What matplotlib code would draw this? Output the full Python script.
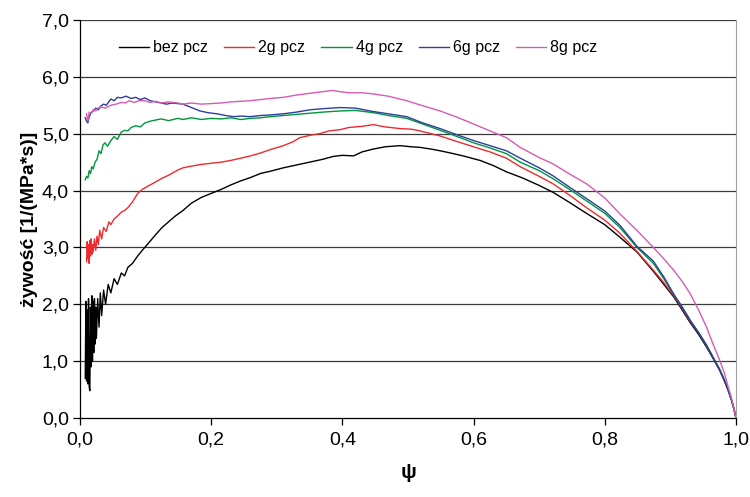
import matplotlib
matplotlib.use("Agg")
import matplotlib.pyplot as plt
from matplotlib.ticker import FuncFormatter

plt.rcParams["font.family"] = ["Liberation Sans", "DejaVu Sans"]

# data
x_bez = [0.008, 0.009, 0.010, 0.011, 0.012, 0.013, 0.014, 0.015, 0.016, 0.017, 0.018, 0.019,
         0.020, 0.021, 0.022, 0.023, 0.024, 0.025, 0.027, 0.029, 0.031, 0.033, 0.036, 0.039,
         0.043, 0.047, 0.052, 0.057, 0.063, 0.068, 0.073, 0.080, 0.088, 0.095, 0.104, 0.115,
         0.125, 0.135, 0.145, 0.157, 0.170, 0.185, 0.200, 0.215, 0.230, 0.245, 0.260, 0.275,
         0.290, 0.310, 0.330, 0.350, 0.370, 0.386, 0.400, 0.417, 0.430, 0.447, 0.465, 0.488,
         0.505, 0.518, 0.535, 0.549, 0.565, 0.584, 0.600, 0.610, 0.630, 0.650, 0.675, 0.700,
         0.721, 0.745, 0.772, 0.800, 0.823, 0.849, 0.874, 0.890, 0.905, 0.918, 0.930, 0.943,
         0.955, 0.965, 0.975, 0.982, 0.988, 0.993, 0.997, 1.000]
y_bez = [0.70, 2.05, 0.65, 1.90, 0.60, 2.10, 0.55, 0.48, 1.95, 0.90, 2.15, 1.00,
         2.05, 1.15, 2.10, 1.30, 1.95, 1.40, 2.10, 1.60, 2.20, 1.80, 2.25, 2.00,
         2.35, 2.20, 2.45, 2.35, 2.55, 2.50, 2.65, 2.72, 2.85, 2.95, 3.07, 3.22,
         3.35, 3.45, 3.55, 3.65, 3.78, 3.88, 3.95, 4.02, 4.10, 4.17, 4.23, 4.30,
         4.34, 4.40, 4.45, 4.50, 4.55, 4.60, 4.62, 4.61, 4.68, 4.73, 4.77, 4.79,
         4.77, 4.76, 4.73, 4.70, 4.66, 4.61, 4.56, 4.53, 4.44, 4.33, 4.22, 4.09,
         3.97, 3.80, 3.60, 3.40, 3.18, 2.92, 2.58, 2.35, 2.13, 1.90, 1.68, 1.47,
         1.25, 1.05, 0.84, 0.66, 0.49, 0.32, 0.15, 0.00]

x_2g = [0.010, 0.011, 0.012, 0.013, 0.014, 0.015, 0.016, 0.017, 0.018, 0.019, 0.020, 0.022,
        0.024, 0.026, 0.028, 0.030, 0.033, 0.036, 0.040, 0.044, 0.047, 0.052, 0.057, 0.063,
        0.068, 0.073, 0.080, 0.088, 0.095, 0.104, 0.115, 0.124, 0.135, 0.149, 0.157, 0.170,
        0.185, 0.200, 0.215, 0.230, 0.245, 0.260, 0.275, 0.290, 0.310, 0.325, 0.335, 0.350,
        0.365, 0.380, 0.396, 0.410, 0.430, 0.447, 0.465, 0.488, 0.505, 0.518, 0.535, 0.549,
        0.570, 0.600, 0.625, 0.650, 0.671, 0.700, 0.721, 0.745, 0.772, 0.800, 0.823, 0.849,
        0.874, 0.890, 0.905, 0.918, 0.930, 0.943, 0.955, 0.965, 0.975, 0.982, 0.988, 0.993,
        0.997, 1.000]
y_2g = [2.75, 3.10, 2.80, 3.05, 2.72, 3.12, 2.85, 3.15, 2.88, 3.05, 2.92, 3.15,
        2.95, 3.20, 3.05, 3.30, 3.15, 3.35, 3.28, 3.45, 3.40, 3.50, 3.55, 3.62,
        3.65, 3.70, 3.80, 3.95, 4.02, 4.08, 4.15, 4.21, 4.27, 4.36, 4.40, 4.43,
        4.46, 4.48, 4.50, 4.53, 4.57, 4.61, 4.66, 4.72, 4.79, 4.86, 4.93, 4.97,
        5.00, 5.05, 5.07, 5.11, 5.13, 5.16, 5.12, 5.09, 5.08, 5.05, 5.00, 4.96,
        4.88, 4.77, 4.68, 4.57, 4.42, 4.25, 4.12, 3.93, 3.70, 3.48, 3.25, 2.93,
        2.60, 2.38, 2.15, 1.93, 1.70, 1.50, 1.28, 1.07, 0.85, 0.67, 0.50, 0.32,
        0.15, 0.00]

x_4g = [0.008, 0.010, 0.012, 0.014, 0.016, 0.018, 0.020, 0.023, 0.026, 0.029, 0.032, 0.035,
        0.038, 0.042, 0.047, 0.052, 0.057, 0.063, 0.068, 0.073, 0.078, 0.085, 0.092, 0.099,
        0.107, 0.115, 0.124, 0.135, 0.149, 0.157, 0.170, 0.185, 0.200, 0.215, 0.230, 0.245,
        0.260, 0.275, 0.290, 0.310, 0.330, 0.350, 0.370, 0.396, 0.420, 0.447, 0.470, 0.498,
        0.520, 0.549, 0.575, 0.600, 0.625, 0.650, 0.671, 0.700, 0.721, 0.745, 0.772, 0.800,
        0.823, 0.849, 0.874, 0.890, 0.905, 0.918, 0.930, 0.943, 0.955, 0.965, 0.975, 0.982,
        0.988, 0.993, 0.997, 1.000]
y_4g = [4.19, 4.25, 4.22, 4.35, 4.30, 4.42, 4.38, 4.50, 4.55, 4.70, 4.65, 4.80,
        4.84, 4.78, 4.88, 4.95, 4.90, 5.03, 5.06, 5.05, 5.11, 5.14, 5.12, 5.19,
        5.22, 5.24, 5.26, 5.23, 5.27, 5.25, 5.28, 5.25, 5.27, 5.26, 5.28, 5.25,
        5.27, 5.28, 5.30, 5.32, 5.34, 5.36, 5.38, 5.40, 5.41, 5.37, 5.32, 5.27,
        5.18, 5.06, 4.95, 4.84, 4.75, 4.65, 4.50, 4.35, 4.21, 4.03, 3.82, 3.60,
        3.35, 3.00, 2.72, 2.45, 2.17, 1.95, 1.72, 1.50, 1.28, 1.07, 0.86, 0.68,
        0.50, 0.33, 0.16, 0.00]

x_6g = [0.008, 0.010, 0.012, 0.014, 0.017, 0.020, 0.024, 0.028, 0.032, 0.036, 0.040, 0.047,
        0.052, 0.057, 0.063, 0.070, 0.078, 0.085, 0.092, 0.099, 0.107, 0.115, 0.124, 0.132,
        0.140, 0.149, 0.157, 0.170, 0.183, 0.195, 0.209, 0.222, 0.234, 0.245, 0.259, 0.275,
        0.290, 0.310, 0.330, 0.350, 0.370, 0.396, 0.420, 0.447, 0.470, 0.498, 0.520, 0.549,
        0.575, 0.600, 0.625, 0.650, 0.671, 0.700, 0.721, 0.745, 0.772, 0.800, 0.823, 0.849,
        0.874, 0.890, 0.905, 0.918, 0.930, 0.943, 0.955, 0.965, 0.975, 0.982, 0.988, 0.993,
        0.997, 1.000]
y_6g = [5.28, 5.22, 5.19, 5.30, 5.37, 5.40, 5.45, 5.42, 5.49, 5.52, 5.50, 5.61,
        5.58, 5.64, 5.63, 5.66, 5.62, 5.64, 5.60, 5.63, 5.58, 5.56, 5.54, 5.52,
        5.54, 5.53, 5.52, 5.46, 5.40, 5.37, 5.35, 5.32, 5.30, 5.31, 5.30, 5.32,
        5.33, 5.35, 5.38, 5.42, 5.44, 5.46, 5.45, 5.39, 5.35, 5.30, 5.20, 5.09,
        4.98, 4.88, 4.79, 4.70, 4.57, 4.40, 4.26, 4.07, 3.86, 3.64, 3.39, 3.02,
        2.76, 2.48, 2.18, 1.95, 1.72, 1.50, 1.28, 1.06, 0.85, 0.67, 0.49, 0.32,
        0.15, 0.00]

x_8g = [0.010, 0.012, 0.014, 0.017, 0.020, 0.024, 0.027, 0.032, 0.038, 0.047, 0.055, 0.063,
        0.069, 0.075, 0.082, 0.090, 0.099, 0.107, 0.115, 0.124, 0.135, 0.149, 0.157, 0.170,
        0.185, 0.200, 0.215, 0.230, 0.245, 0.259, 0.275, 0.290, 0.310, 0.330, 0.350, 0.370,
        0.385, 0.396, 0.410, 0.430, 0.447, 0.470, 0.498, 0.520, 0.549, 0.575, 0.600, 0.625,
        0.650, 0.671, 0.700, 0.721, 0.745, 0.772, 0.800, 0.823, 0.849, 0.874, 0.890, 0.905,
        0.918, 0.930, 0.943, 0.955, 0.965, 0.975, 0.982, 0.988, 0.993, 0.997, 1.000]
y_8g = [5.35, 5.22, 5.38, 5.36, 5.42, 5.40, 5.45, 5.47, 5.45, 5.50, 5.52, 5.55,
        5.54, 5.58, 5.55, 5.58, 5.58, 5.55, 5.57, 5.54, 5.56, 5.54, 5.52, 5.54,
        5.52, 5.53, 5.54, 5.56, 5.57, 5.58, 5.60, 5.62, 5.64, 5.68, 5.71, 5.74,
        5.76, 5.74, 5.72, 5.72, 5.70, 5.66, 5.58, 5.50, 5.40, 5.29, 5.17, 5.05,
        4.93, 4.76, 4.58, 4.47, 4.30, 4.12, 3.87, 3.59, 3.30, 3.00, 2.80, 2.60,
        2.40, 2.19, 1.90, 1.60, 1.30, 1.02, 0.80, 0.55, 0.35, 0.15, 0.00]

series_labels = ["bez pcz", "2g pcz", "4g pcz", "6g pcz", "8g pcz"]
series_colors = ["#000000", "#EE2A2F", "#00963C", "#2B3F9C", "#D65CB2"]
series_x = [x_bez, x_2g, x_4g, x_6g, x_8g]
series_y = [y_bez, y_2g, y_4g, y_6g, y_8g]

fig = plt.figure(figsize=(7.5, 4.97), dpi=100)
ax = fig.add_axes([80 / 750, 1 - 418 / 497, 656 / 750, 398 / 497])

for ys in range(1, 8):
    ax.axhline(ys, color="#3a3a3a", lw=0.9, zorder=1)

for xs, ys, lab, col in zip(series_x, series_y, series_labels, series_colors):
    ax.plot(xs, ys, color=col, lw=1.0, label=lab, zorder=3)

ax.set_xlim(0, 1)
ax.set_ylim(0, 7)
ax.set_xticks([0, 0.2, 0.4, 0.6, 0.8, 1.0])
ax.set_yticks(range(0, 8))
comma = FuncFormatter(lambda v, p: f"{v:.1f}".replace(".", ","))
ax.xaxis.set_major_formatter(comma)
ax.yaxis.set_major_formatter(comma)
ax.tick_params(axis="both", direction="out", length=5, width=0.9, labelsize=14, color="black")
ax.tick_params(axis="x", pad=5)
ax.tick_params(axis="y", pad=3)

ax.spines["top"].set_visible(False)
ax.spines["right"].set_color("#a0a0a0")
ax.spines["left"].set_linewidth(0.9)
ax.spines["bottom"].set_linewidth(0.9)

ax.set_ylabel("żywość [1/(MPa*s)]", fontsize=14, fontweight="bold", labelpad=3)
ax.set_xlabel("ψ", fontsize=15, fontweight="bold", labelpad=10)

ax.legend(loc="center", bbox_to_anchor=(0.424, 0.93), ncol=5, frameon=False,
          fontsize=11.5, handlelength=1.9, handletextpad=0.25, columnspacing=1.0)

fig.savefig("out.png", dpi=100)
